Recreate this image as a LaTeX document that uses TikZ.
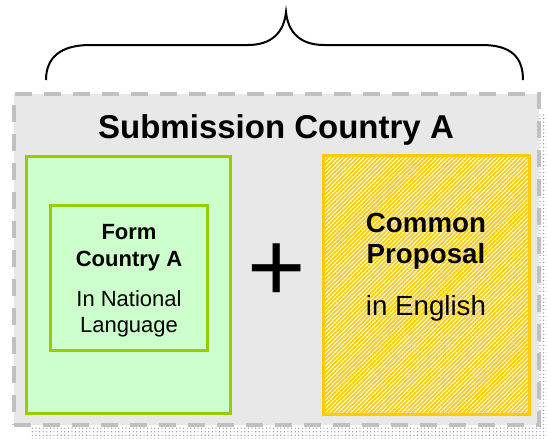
\documentclass[tikz,border=0pt]{standalone}
\usepackage{fontspec}
\setmainfont{Liberation Sans}
\usetikzlibrary{patterns.meta}

\definecolor{boxgray}{HTML}{E8E8E8}
\definecolor{dashgray}{HTML}{C0C0C0}
\definecolor{formfill}{HTML}{CCFFCC}
\definecolor{formedge}{HTML}{99CC00}
\definecolor{propyellow}{HTML}{FFCC00}

\newcommand\bigfont[1]{\fontsize{#1}{#1}\selectfont}

\begin{document}
\begin{tikzpicture}[x=1pt,y=-1pt,
    submissionbox/.style={draw=dashgray, fill=boxgray, line width=4pt,
        dash pattern=on 17pt off 12pt, inner sep=0pt},
    formbox/.style={draw=formedge, fill=formfill, line width=3pt, inner sep=0pt},
    proposalbox/.style={draw=propyellow, line width=3pt, inner sep=0pt,
        preaction={fill=white},
        pattern={Lines[angle=45,distance=3pt,line width=1.8pt]},
        pattern color=propyellow},
    label/.style={anchor=base, inner sep=0pt}]
                \useasboundingbox (0,0) rectangle (547,439);
                % shadow
                \fill [pattern={Dots[distance=3.6pt,radius=0.7pt]}, pattern color=black!40]
                    (30,113) rectangle (547,438);
                \node [submissionbox, minimum width=525pt, minimum height=331pt]
                    (submission) at (276.5,259.5) {};
                \node [label, font=\bfseries\bigfont{33}] (title) at (276,138)
                    {Submission Country A};
                % brace
                \draw [line width=2pt] (46,80) .. controls (46,58) and (60,45) .. (90,45)
                    -- (248,45) .. controls (272,45) and (284,32) .. (286,12)
                    .. controls (288,32) and (300,45) .. (324,45)
                    -- (482,45) .. controls (512,45) and (523,58) .. (523,80);
                \node [formbox, minimum width=204pt, minimum height=257pt]
                    (form) at (128,284.5) {};
                \node [formbox, minimum width=157pt, minimum height=145pt]
                    (forminner) at (128.5,277.5) {};
                \node [label, font=\bfseries\bigfont{22}] (form1) at (129,239) {Form};
                \node [label, font=\bfseries\bigfont{22}] (form2) at (129,266) {Country A};
                \node [label, font=\bigfont{22}] (form3) at (129,306) {In National};
                \node [label, font=\bigfont{22}] (form4) at (129,332) {Language};
                \node [label, font=\bigfont{100}] (plus) at (277,301) {+};
                \node [proposalbox, minimum width=206pt, minimum height=259pt]
                    (proposal) at (426,284.5) {};
                \node [label, font=\bfseries\bigfont{27.7}] (prop1) at (426,232) {Common};
                \node [label, font=\bfseries\bigfont{27.7}] (prop2) at (426,263) {Proposal};
                \node [label, font=\bigfont{27.7}] (prop3) at (426,315) {in English};
            \end{tikzpicture}
\end{document}
